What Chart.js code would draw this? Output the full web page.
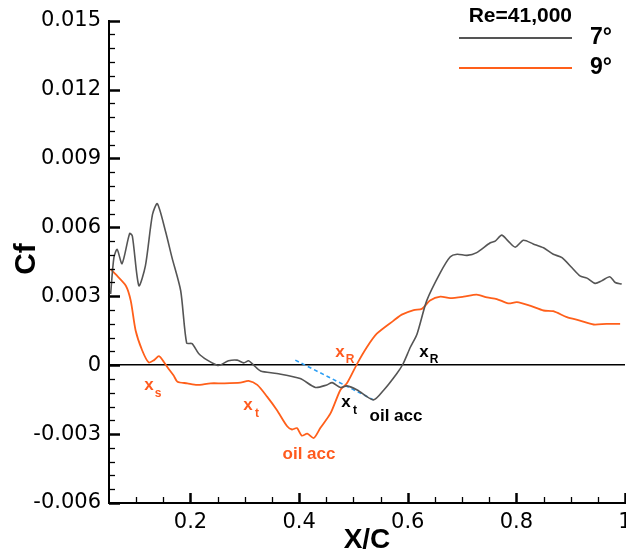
<!DOCTYPE html>
<html lang="en">
<head>
<meta charset="UTF-8">
<title>Cf distribution</title>
<script src="https://cdn.jsdelivr.net/npm/chart.js"></script>
<style>
  html, body { margin: 0; padding: 0; background: #fff; }
  canvas { display: block; }
</style>
</head>
<body>
<canvas id="cfChart" width="626" height="556"></canvas>
<script>
// skin friction along the chord, Re=41,000
const xc7 = [0.053, 0.059, 0.065, 0.074, 0.088, 0.093, 0.105, 0.117, 0.130, 0.139, 0.154, 0.166, 0.182, 0.193, 0.203, 0.215,
  0.231, 0.249, 0.255, 0.270, 0.286, 0.298, 0.307, 0.316, 0.329, 0.359, 0.402, 0.430, 0.451, 0.461, 0.476, 0.488,
  0.507, 0.537, 0.556, 0.580, 0.591, 0.605, 0.617, 0.635, 0.660, 0.678, 0.691, 0.709, 0.727, 0.752, 0.761, 0.773,
  0.785, 0.798, 0.813, 0.831, 0.850, 0.868, 0.884, 0.902, 0.917, 0.930, 0.945, 0.957, 0.972, 0.982, 0.994];
const cf7 = [0.0031, 0.00468, 0.00504, 0.00442, 0.00573, 0.00562, 0.00346, 0.00432, 0.00655, 0.00703, 0.00583, 0.00468, 0.00324, 0.00096, 0.00094, 0.00051,
  0.00022, 0, 0.00001, 0.00019, 0.00022, 0.0001, 0.00019, 0.00001, -0.00025, -0.00036, -0.00058, -0.00097, -0.00086, -0.00076, -0.00097, -0.0009,
  -0.00108, -0.00151, -0.00108, -0.00036, 0.00004, 0.00079, 0.00135, 0.00281, 0.00403, 0.00471, 0.00483, 0.00478, 0.0049, 0.00533, 0.0054, 0.00566,
  0.0054, 0.00514, 0.00544, 0.00528, 0.00511, 0.00483, 0.00468, 0.00425, 0.00389, 0.00379, 0.00356, 0.00367, 0.00385, 0.0036, 0.00353];

const xc9 = [0.053, 0.062, 0.081, 0.090, 0.099, 0.111, 0.123, 0.133, 0.142, 0.151, 0.157, 0.169, 0.176, 0.194, 0.212, 0.237,
  0.261, 0.292, 0.307, 0.323, 0.341, 0.359, 0.378, 0.387, 0.396, 0.405, 0.415, 0.427, 0.439, 0.458, 0.476, 0.488,
  0.507, 0.525, 0.543, 0.574, 0.589, 0.611, 0.626, 0.641, 0.660, 0.678, 0.703, 0.727, 0.746, 0.764, 0.785, 0.801,
  0.825, 0.850, 0.868, 0.893, 0.917, 0.942, 0.966, 0.991];
const cf9 = [0.00418, 0.00396, 0.00346, 0.00281, 0.00151, 0.00065, 0.00012, 0.00022, 0.00039, 0.00014, -0.00007, -0.00045, -0.00072, -0.00079, -0.00086, -0.00079,
  -0.00079, -0.00076, -0.00068, -0.00086, -0.00137, -0.00195, -0.00266, -0.0028, -0.00274, -0.00307, -0.00298, -0.00317, -0.00274, -0.00209, -0.00108, -0.00079,
  0.00007, 0.00079, 0.00137, 0.00194, 0.0022, 0.0024, 0.00245, 0.00281, 0.00298, 0.00292, 0.00298, 0.00307, 0.00295, 0.00288, 0.00269, 0.00274,
  0.00259, 0.00238, 0.00235, 0.00209, 0.00194, 0.00177, 0.0018, 0.0018];

// oil accumulation fit (blue dashed)
const oilFitX = [0.393, 0.537];
const oilFitCf = [0.00022, -0.00151];

const seriesNames = ['7°', '9°'];
const legendTitle = 'Re=41,000';

// axis setup
const xMin = 0.05, xMax = 1.0, xStep = 0.2;
const yMin = -0.006, yMax = 0.015, yStep = 0.003;

// text marks placed in data coordinates
const marks = [
  { text: 'x', sub: 's', x: 0.1236, y: -0.00089, color: '#ff5a1e' },
  { text: 'x', sub: 't', x: 0.3059, y: -0.00176, color: '#ff5a1e' },
  { text: 'oil acc', x: 0.4182, y: -0.00388, color: '#ff5a1e' },
  { text: 'x', sub: 'R', x: 0.4753, y: 0.00058, color: '#ff5a1e' },
  { text: 'x', sub: 'R', x: 0.6300, y: 0.00058, color: '#000' },
  { text: 'x', sub: 't', x: 0.4863, y: -0.00163, color: '#000' },
  { text: 'oil acc', x: 0.5784, y: -0.00223, color: '#000' }
];

const GRAY = '#555555';
const ORANGE = '#ff5f1a';
const BLUE = '#2a9df4';

const toPts = (xs, ys) => xs.map((v, i) => ({ x: v, y: ys[i] }));

const decor = {
  id: 'decor',
  afterDraw(chart) {
    const { ctx, chartArea: a, scales: { x, y } } = chart;
    ctx.save();
    ctx.strokeStyle = '#000';

    // inward ticks on the left axis, 5 per major step
    const yDiv = 5;
    const yCount = Math.round((yMax - yMin) / yStep) * yDiv;
    for (let i = 0; i <= yCount; i++) {
      const py = Math.round(y.getPixelForValue(yMin + i * yStep / yDiv)) + 0.5;
      const major = i % yDiv === 0;
      ctx.lineWidth = major ? 2.5 : 1.3;
      ctx.beginPath();
      ctx.moveTo(a.left, py);
      ctx.lineTo(a.left + (major ? 11 : 6), py);
      ctx.stroke();
    }
    // inward ticks on the bottom axis, every 0.05
    for (let i = 1; i <= 19; i++) {
      const v = xMin + i * 0.05;
      const px = Math.round(x.getPixelForValue(v)) + 0.5;
      const major = (i + 1) % 4 === 0;
      ctx.lineWidth = major ? 2.5 : 1.3;
      ctx.beginPath();
      ctx.moveTo(px, a.bottom);
      ctx.lineTo(px, a.bottom - (major ? 10 : 6));
      ctx.stroke();
    }

    // annotations
    ctx.textBaseline = 'middle';
    marks.forEach(m => {
      const px = x.getPixelForValue(m.x);
      const py = y.getPixelForValue(m.y);
      ctx.fillStyle = m.color;
      ctx.textAlign = 'center';
      ctx.font = 'bold 17px "Liberation Sans", Arial, sans-serif';
      ctx.fillText(m.text, px, py);
      if (m.sub) {
        ctx.font = 'bold 12px "Liberation Sans", Arial, sans-serif';
        ctx.fillText(m.sub, px + (m.sub === 'R' ? 10 : 9), py + 8);
      }
    });

    // legend
    ctx.fillStyle = '#000';
    ctx.font = 'bold 21px "Liberation Sans", Arial, sans-serif';
    ctx.textAlign = 'right';
    ctx.fillText(legendTitle, 572, 16);
    [GRAY, ORANGE].forEach((c, i) => {
      const ly = 38 + i * 30;
      ctx.strokeStyle = c;
      ctx.lineWidth = 2;
      ctx.beginPath();
      ctx.moveTo(459, ly);
      ctx.lineTo(572, ly);
      ctx.stroke();
      ctx.fillStyle = '#000';
      ctx.font = 'bold 23px "Liberation Sans", Arial, sans-serif';
      ctx.textAlign = 'left';
      ctx.fillText(seriesNames[i], 590, ly);
    });

    // axis titles
    ctx.font = 'bold 28px "Liberation Sans", Arial, sans-serif';
    ctx.textAlign = 'center';
    ctx.fillText('X/C', 367, 540);
    ctx.translate(27, 259);
    ctx.rotate(-Math.PI / 2);
    ctx.font = 'bold 30px "Liberation Sans", Arial, sans-serif';
    ctx.fillText('Cf', 0, 0);
    ctx.restore();
  }
};

const tickFont = { family: 'DejaVu Sans', size: 21 };

new Chart(document.getElementById('cfChart'), {
  type: 'line',
  data: {
    datasets: [
      { label: seriesNames[0], data: toPts(xc7, cf7), borderColor: GRAY, borderWidth: 1.6, tension: 0.25 },
      { label: seriesNames[1], data: toPts(xc9, cf9), borderColor: ORANGE, borderWidth: 1.8, tension: 0.25 },
      { label: 'fit', data: toPts(oilFitX, oilFitCf), borderColor: BLUE, borderWidth: 1.6, borderDash: [4, 3] }
    ]
  },
  options: {
    responsive: false,
    animation: false,
    devicePixelRatio: 1,
    events: [],
    elements: { point: { radius: 0 } },
    layout: { padding: { top: 18, right: 1, left: 0, bottom: 0 } },
    plugins: { legend: { display: false }, tooltip: { enabled: false } },
    scales: {
      x: {
        type: 'linear',
        min: xMin,
        max: xMax,
        grid: { display: false, drawTicks: false },
        border: { display: true, color: '#000', width: 2 },
        ticks: {
          stepSize: xStep,
          autoSkip: false,
          maxRotation: 0,
          padding: 7,
          color: '#000',
          font: tickFont,
          callback: v => v < 0.1 ? '' : (Math.abs(v - 1) < 1e-9 ? '1' : v.toFixed(1))
        },
        afterFit(s) { s.height = 53; s.paddingLeft = 0; s.paddingRight = 0; }
      },
      y: {
        type: 'linear',
        min: yMin,
        max: yMax,
        grid: {
          drawTicks: false,
          lineWidth: 1.6,
          color: c => Math.abs(c.tick.value) < 1e-9 ? '#000' : 'rgba(0,0,0,0)'
        },
        border: { display: true, color: '#000', width: 2 },
        ticks: {
          stepSize: yStep,
          padding: 8,
          color: '#000',
          font: tickFont,
          callback: v => Math.abs(v) < 1e-9 ? '0' : v.toFixed(3)
        },
        afterFit(s) { s.width = 109; }
      }
    }
  },
  plugins: [decor]
});
</script>
</body>
</html>
